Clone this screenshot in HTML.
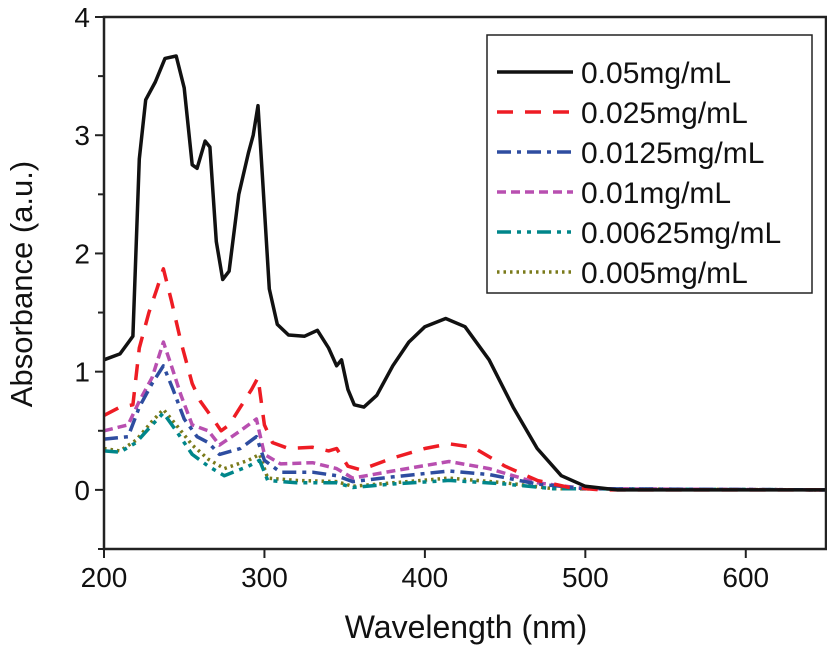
<!DOCTYPE html>
<html><head><meta charset="utf-8"><style>
body{margin:0;background:#fff;}
svg text{font-family:"Liberation Sans",Arial,sans-serif;fill:#111;}
</style></head><body>
<svg id="chart" width="827" height="646" viewBox="0 0 827 646" xmlns="http://www.w3.org/2000/svg">
<g id="series"></g>
<g id="axes"></g>
<text x="466" y="638" text-anchor="middle" font-size="32">Wavelength (nm)</text>
<text transform="translate(32,284) rotate(-90)" text-anchor="middle" font-size="31">Absorbance (a.u.)</text>
<g id="legend"></g>
</svg>
<script>
const xTicks=[200,300,400,500,600];
const yTicks=[0,1,2,3,4];
const seriesNames=["0.05mg/mL","0.025mg/mL","0.0125mg/mL","0.01mg/mL","0.00625mg/mL","0.005mg/mL"];
const wlBlack=[200,210,218,222,226,232,238,245,250,255,258,263,266,270,274,278,284,290,293,296,299,303,308,315,325,333,340,345,348,352,356,362,370,380,390,400,413,425,440,455,470,485,500,520,650];
const absBlack=[1.1,1.15,1.3,2.8,3.3,3.45,3.65,3.67,3.4,2.75,2.72,2.95,2.9,2.1,1.78,1.85,2.5,2.85,3.0,3.25,2.6,1.7,1.4,1.31,1.3,1.35,1.2,1.05,1.1,0.85,0.72,0.7,0.8,1.05,1.25,1.38,1.45,1.38,1.1,0.7,0.35,0.12,0.03,0,0];
const wlRed=[200,210,218,222,228,233,237,242,248,255,260,268,273,278,285,292,296,300,305,315,330,340,345,352,360,380,400,415,430,450,470,490,510,650];
const absRed=[0.63,0.7,0.72,1.2,1.5,1.7,1.87,1.6,1.25,0.9,0.75,0.6,0.5,0.55,0.7,0.85,0.95,0.55,0.4,0.35,0.36,0.33,0.35,0.2,0.17,0.27,0.35,0.39,0.36,0.2,0.08,0.02,0,0];
const wlBlue=[200,215,222,230,237,243,250,258,265,272,285,295,300,310,330,345,355,380,415,440,470,500,650];
const absBlue=[0.43,0.45,0.7,0.9,1.05,0.85,0.6,0.45,0.4,0.3,0.35,0.45,0.25,0.15,0.15,0.12,0.07,0.11,0.16,0.13,0.05,0.01,0];
const wlMagenta=[200,215,222,230,237,242,248,255,265,272,285,295,300,310,330,345,355,380,415,440,470,500,650];
const absMagenta=[0.5,0.55,0.75,0.95,1.25,1.05,0.8,0.55,0.5,0.38,0.5,0.6,0.3,0.22,0.23,0.18,0.1,0.16,0.24,0.18,0.06,0.01,0];
const wlTeal=[200,210,220,230,237,245,255,265,275,290,297,302,320,345,355,380,415,450,480,650];
const absTeal=[0.33,0.32,0.4,0.55,0.65,0.5,0.3,0.2,0.12,0.2,0.25,0.08,0.06,0.06,0.02,0.05,0.08,0.05,0.01,0];
const wlOlive=[200,210,220,230,237,245,255,265,275,290,297,302,320,345,355,380,415,450,480,650];
const absOlive=[0.35,0.33,0.42,0.58,0.68,0.55,0.38,0.26,0.18,0.25,0.3,0.1,0.08,0.07,0.03,0.06,0.1,0.06,0.01,0];

const NS="http://www.w3.org/2000/svg";
const X0=104,X1=826,Y0=17,Y1=549,xmin=200,xmax=650,ymin=-0.5,ymax=4;
function xs(v){return X0+(v-xmin)/(xmax-xmin)*(X1-X0);}
function ys(v){return Y1-(v-ymin)/(ymax-ymin)*(Y1-Y0);}
function mk(t,a){const e=document.createElementNS(NS,t);for(const k in a)e.setAttribute(k,a[k]);return e;}
const styles=[
 {c:"#111",d:"",w:3.5},
 {c:"#ee1c24",d:"16 12",w:3.5},
 {c:"#2e4da0",d:"14 6 4 6",w:3.5},
 {c:"#b84fb0",d:"9 5",w:3.5},
 {c:"#00868a",d:"14 6 4 6 4 6",w:3.5},
 {c:"#7a7a1a",d:"2.5 4",w:3.5}];
const data=[[wlBlack,absBlack],[wlRed,absRed],[wlBlue,absBlue],[wlMagenta,absMagenta],[wlTeal,absTeal],[wlOlive,absOlive]];
const sg=document.getElementById('series');
for(let s=5;s>=0;s--){
 const [w,a]=data[s];
 const pts=w.map((v,i)=>xs(v).toFixed(1)+","+ys(a[i]).toFixed(1)).join(" ");
 const p=mk('polyline',{points:pts,fill:"none",stroke:styles[s].c,"stroke-width":styles[s].w,"stroke-dasharray":styles[s].d,"stroke-linejoin":"round"});
 
 
 sg.appendChild(p);
}
const ax=document.getElementById('axes');
const frame=mk('rect',{x:X0,y:Y0,width:X1-X0,height:Y1-Y0,fill:"none",stroke:"#222","stroke-width":2.5});


ax.appendChild(frame);
xTicks.forEach(v=>{
 ax.appendChild(mk('line',{x1:xs(v),x2:xs(v),y1:Y1,y2:Y1+9,stroke:"#222","stroke-width":2}));
 const t=mk('text',{x:xs(v),y:Y1+38,"text-anchor":"middle","font-size":28});
 t.textContent=v;
 
 
 ax.appendChild(t);
});
for(let v=-0.5;v<=4;v+=0.5){
 ax.appendChild(mk('line',{x1:X0,x2:X0-(Number.isInteger(v)?9:6),y1:ys(v),y2:ys(v),stroke:"#222","stroke-width":2}));
}
yTicks.forEach(v=>{
 const t=mk('text',{x:X0-14,y:ys(v)+10,"text-anchor":"end","font-size":28});
 t.textContent=v;
 
 
 ax.appendChild(t);
});
const lg=document.getElementById('legend');
const box=mk('rect',{x:487,y:35,width:325,height:258,fill:"#fff",stroke:"#222","stroke-width":1.5});


lg.appendChild(box);
seriesNames.forEach((n,i)=>{
 const y=72+i*40;
 const l=mk('line',{x1:497,x2:573,y1:y,y2:y,stroke:styles[i].c,"stroke-width":styles[i].w,"stroke-dasharray":styles[i].d});
 
 
 lg.appendChild(l);
 const t=mk('text',{x:581,y:y+11,"font-size":30});
 t.textContent=n;
 
 
 lg.appendChild(t);
});
</script>
</body></html>
